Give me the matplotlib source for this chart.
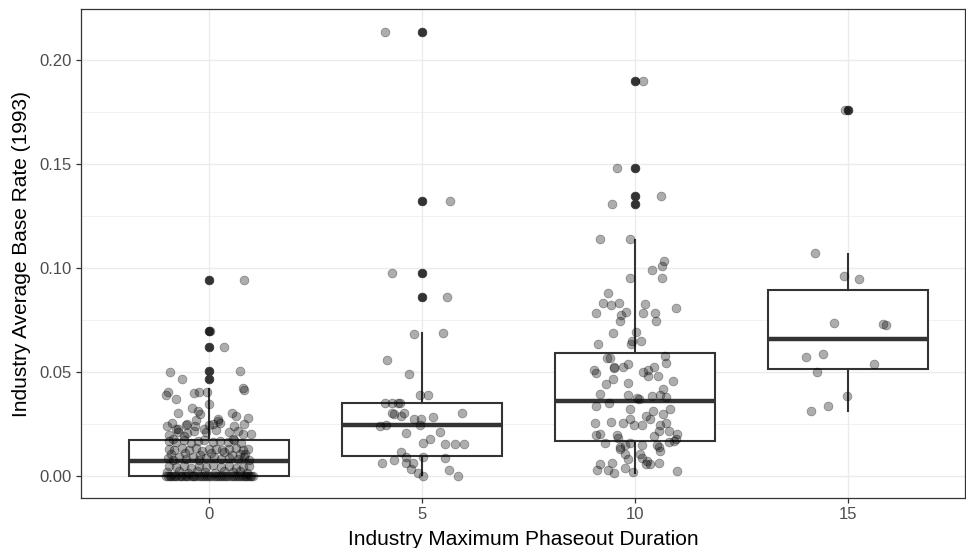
import matplotlib
matplotlib.use("Agg")
import matplotlib.pyplot as plt
from matplotlib.ticker import MultipleLocator

plt.rcParams["font.family"] = ["Liberation Sans", "DejaVu Sans"]

# Industry maximum phaseout duration groups
durations = [0, 5, 10, 15]

# Box summaries per duration group (1993 base rates)
q1 = [0.0, 0.0096, 0.0165, 0.0511]
medians = [0.0072, 0.0242, 0.0358, 0.0655]
q3 = [0.0174, 0.0352, 0.0591, 0.0893]
whisker_low = [0.0, 0.0003, 0.0013, 0.0313]
whisker_high = [0.0416, 0.0688, 0.1134, 0.1067]
outliers = [
    [0.0943, 0.0698, 0.062, 0.0503, 0.0467],
    [0.2135, 0.132, 0.0975, 0.086],
    [0.1898, 0.1478, 0.1347, 0.1307],
    [0.1757],
]

# Industry base rates, duration 0
rates_0 = [
    0.0943, 0.0698, 0.062, 0.0503, 0.0467, 0.0498, 0.0424, 0.041, 0.0403, 0.0387,
    0.0368, 0.0398, 0.0401, 0.0401, 0.0344, 0.0304, 0.0324, 0.0312, 0.0299, 0.0304,
    0.0288, 0.0277, 0.0272, 0.0238, 0.0253, 0.0227, 0.0251, 0.0238, 0.0268, 0.0224,
    0.0248, 0.0262, 0.0251, 0.0176, 0.02, 0.0201, 0.0198, 0.0224, 0.0192, 0.0205,
    0.0176,
    0.0242, 0.0255, 0.024, 0.0246,
    0.0212, 0.0216, 0.021, 0.0218, 0.0208, 0.0215,
    0.0168, 0.0162, 0.017, 0.0158, 0.0165, 0.0172, 0.016, 0.0167, 0.0163, 0.017, 0.0158,
    0.013, 0.0124, 0.0132, 0.0126, 0.0135, 0.012, 0.0128, 0.0131, 0.0123, 0.0129,
    0.0134, 0.0122, 0.0127,
    0.0085, 0.0078, 0.0088, 0.008, 0.0092, 0.0076, 0.0083, 0.009, 0.0079, 0.0086,
    0.0081, 0.0089, 0.0077,
    0.0045, 0.004, 0.0048, 0.0038, 0.0046, 0.0042, 0.005, 0.0041, 0.0047, 0.0039,
    0.0044, 0.0049,
    0.0105, 0.011, 0.0102, 0.0108, 0.0112, 0.0099, 0.0106, 0.0103,
    0.0018, 0.0022, 0.0015, 0.0025, 0.002, 0.0012, 0.0023, 0.0017, 0.0021, 0.0014,
] + [0.0] * 45

# Industry base rates, duration 5
rates_5 = [
    0.2135, 0.132, 0.0975, 0.086, 0.0683, 0.0688, 0.0555, 0.0488, 0.0387, 0.039,
    0.0352, 0.0352, 0.0349, 0.0352, 0.030, 0.0298, 0.0287, 0.030, 0.030, 0.0272,
    0.0271, 0.0282, 0.0239, 0.0243, 0.0243, 0.0205, 0.0209, 0.0176, 0.0157, 0.0152,
    0.0154, 0.0152, 0.0114, 0.009, 0.0075, 0.006, 0.0063, 0.006, 0.009, 0.0085,
    0.0032, 0.0013, 0.0, 0.0027, 0.0,
]

# Industry base rates, duration 10
rates_10 = [
    0.1898, 0.1478, 0.1347, 0.1307, 0.1136, 0.1138, 0.103, 0.1006, 0.099, 0.095,
    0.095, 0.0877, 0.0832, 0.082, 0.0832, 0.0826, 0.0807, 0.0781, 0.0773, 0.0786,
    0.078, 0.078, 0.0745, 0.0745, 0.0687, 0.0692, 0.0633, 0.0646, 0.0635, 0.065,
    0.0564, 0.0566, 0.0577, 0.051, 0.0492, 0.0524, 0.0518, 0.0521, 0.0535, 0.0498,
    0.0508, 0.0524, 0.0479, 0.0479, 0.054, 0.0455, 0.0463, 0.044, 0.0446, 0.0419,
    0.0393, 0.039, 0.0376, 0.0368, 0.0383, 0.0387, 0.0377, 0.035, 0.0334, 0.032,
    0.031, 0.0321, 0.0288, 0.0299, 0.0256, 0.026, 0.0256, 0.0275, 0.0243, 0.0244,
    0.0272, 0.0246, 0.0253, 0.0197, 0.02, 0.0195, 0.0182, 0.0216, 0.0213, 0.0189,
    0.02, 0.0176, 0.0168, 0.0157, 0.0139, 0.0147, 0.0157, 0.0149, 0.0147, 0.016,
    0.0136, 0.012, 0.0131, 0.0104, 0.0079, 0.0105, 0.0085, 0.0072, 0.0056, 0.0056,
    0.0061, 0.0056, 0.0061, 0.0029, 0.0029, 0.0014, 0.0037, 0.0016, 0.0021,
]

# Industry base rates, duration 15
rates_15 = [
    0.1071, 0.096, 0.0948, 0.0733, 0.073, 0.0726, 0.0569, 0.0587, 0.0539, 0.0498,
    0.0385, 0.0335, 0.0312, 0.1757,
]

# Horizontal jitter of each point around its group (x units)
jitter_0 = [
    0.83, 0.02, 0.36, 0.73, -0.64, -0.91, 0.81, 0.82, -0.96, -1.01,
    -0.76, -0.36, -0.22, -0.04, 0.0, -0.72, -0.39, -0.25, -0.20, 0.55,
    0.63, 0.92, 0.22, -0.99, -0.86, -0.72, -0.51, -0.33, -0.31, -0.12,
    0.09, 0.22, 0.83, 0.56, 0.79, 0.99, -0.94, -0.76, -0.59, -0.51,
    -0.85,
    -0.54, 0.25, 0.60, 0.01,
    -0.73, -0.34, -0.07, 0.17, 0.48, 0.68,
    -0.93, -0.77, -0.58, -0.42, -0.26, -0.11, 0.09, 0.25, 0.44, 0.60, 0.76,
    -0.93, -0.81, -0.62, -0.46, -0.30, -0.15, 0.01, 0.17, 0.32, 0.48,
    0.64, 0.79, 0.91,
    -0.97, -0.85, -0.69, -0.54, -0.38, -0.22, -0.07, 0.13, 0.29, 0.48,
    0.68, 0.83, 0.95,
    -0.93, -0.77, -0.58, -0.42, -0.22, -0.07, 0.09, 0.29, 0.48, 0.64,
    0.79, 0.95,
    -0.88, -0.55, -0.2, 0.05, 0.36, 0.55, 0.72, 0.86,
    -0.98, -0.7, -0.5, -0.28, -0.1, 0.15, 0.35, 0.56, 0.74, 0.9,
    -1.0, -0.96, -0.92, -0.88, -0.84, -0.8, -0.76, -0.71, -0.66, -0.62,
    -0.57, -0.53, -0.48, -0.43, -0.38, -0.34, -0.29, -0.24, -0.19, -0.14,
    -0.09, -0.05, 0.0, 0.06, 0.11, 0.16, 0.21, 0.26, 0.31, 0.36,
    0.41, 0.46, 0.51, 0.56, 0.61, 0.66, 0.71, 0.76, 0.8, 0.84,
    0.88, 0.92, 0.96, 1.0, 1.03,
]
jitter_5 = [
    -0.86, 0.66, -0.70, 0.59, -0.18, 0.50, -0.82, -0.30, -0.04, 0.15,
    -0.86, -0.70, -0.56, -0.51, -0.70, -0.65, -0.49, -0.42, 0.95, -0.18,
    -0.02, 0.27, -0.98, -0.84, -0.04, -0.37, 0.43, 0.19, 0.03, 0.55,
    0.78, 0.99, -0.49, -0.37, -0.65, -0.93, -0.37, -0.20, 0.03, 0.55,
    -0.25, -0.09, 0.03, 0.64, 0.85,
]
jitter_10 = [
    0.19, -0.41, 0.61, -0.53, -0.82, -0.12, 0.68, 0.64, 0.40, -0.12,
    0.64, -0.63, -0.74, -0.56, -0.37, 0.24, 0.96, -0.92, -0.33, -0.20,
    0.18, 0.47, -0.34, 0.50, -0.51, 0.03, -0.86, -0.06, -0.08, 0.14,
    -0.66, -0.58, 0.71, -0.95, -0.91, -0.50, -0.48, -0.27, -0.16, 0.20,
    0.31, 0.46, 0.30, 0.54, 0.74, 0.89, -0.51, -0.67, -0.16, 0.66,
    -0.83, -0.17, 0.06, 0.10, 0.41, 0.59, 0.74, -0.61, -0.91, -0.12,
    0.43, 0.82, 0.27, 0.66, -0.93, -0.55, -0.28, -0.11, -0.03, 0.17,
    0.36, 0.60, 0.74, -0.92, -0.81, -0.41, -0.39, 0.56, 0.80, 0.45,
    0.98, 0.97, 0.93, -0.69, -0.36, -0.23, -0.11, 0.17, 0.52, 0.79,
    0.57, 0.58, -0.36, -0.23, -0.17, 0.11, 0.17, 0.28, 0.36, 0.26,
    0.56, -0.82, -0.54, -0.89, -0.62, -0.50, -0.24, -0.04, 0.99,
]
jitter_15 = [
    -0.78, -0.09, 0.26, -0.32, 0.83, 0.89, -0.99, -0.59, 0.61, -0.72,
    -0.02, -0.47, -0.87, -0.07,
]

group_rates = [rates_0, rates_5, rates_10, rates_15]
group_jitter = [jitter_0, jitter_5, jitter_10, jitter_15]

dark = "#333333"
grid_col = "#EBEBEB"

fig = plt.figure(figsize=(9.66, 5.48), dpi=100)
ax = fig.add_axes([0.0839, 0.0912, 0.9151, 0.8918])

# Boxes
stats = []
for i in range(len(durations)):
    stats.append(dict(med=medians[i], q1=q1[i], q3=q3[i],
                      whislo=whisker_low[i], whishi=whisker_high[i],
                      fliers=outliers[i]))
ax.bxp(stats, positions=durations, widths=3.75, patch_artist=True,
       showcaps=False, showfliers=True, manage_ticks=False,
       boxprops=dict(facecolor="white", edgecolor=dark, linewidth=1.5),
       medianprops=dict(color=dark, linewidth=3.2, solid_capstyle="butt"),
       whiskerprops=dict(color=dark, linewidth=1.5),
       flierprops=dict(marker="o", markerfacecolor=dark, markeredgecolor=dark,
                       markersize=6.3, markeredgewidth=0.5, linestyle="none"),
       zorder=2)

# Jittered observations
for d, rates, jit in zip(durations, group_rates, group_jitter):
    xs = [d + j for j in jit]
    ax.scatter(xs, rates, s=40, facecolor=(0, 0, 0, 0.32),
               edgecolor=(0, 0, 0, 0.32), linewidth=0.6, zorder=3)

ax.set_xlim(-3.0, 17.75)
ax.set_ylim(-0.0107, 0.2242)
ax.set_xticks(durations)
ax.set_xticklabels([str(d) for d in durations])
ax.yaxis.set_major_locator(MultipleLocator(0.05))
ax.yaxis.set_minor_locator(MultipleLocator(0.025))
ax.set_yticks([0.0, 0.05, 0.10, 0.15, 0.20])
ax.set_yticklabels(["0.00", "0.05", "0.10", "0.15", "0.20"])

ax.grid(True, which="major", color=grid_col, linewidth=0.95, zorder=0)
ax.grid(True, which="minor", axis="y", color=grid_col, linewidth=0.5, zorder=0)
ax.set_axisbelow(True)

for sp in ax.spines.values():
    sp.set_color(dark)
    sp.set_linewidth(0.9)

ax.tick_params(axis="both", which="major", length=3.5, width=0.9, color=dark,
               labelsize=12, labelcolor="#4D4D4D", pad=3)
ax.tick_params(axis="y", which="minor", length=0)

ax.set_xlabel("Industry Maximum Phaseout Duration", fontsize=15, color="black",
              labelpad=6)
ax.set_ylabel("Industry Average Base Rate (1993)", fontsize=15, color="black",
              labelpad=6)

fig.savefig("out.png", dpi=100)
